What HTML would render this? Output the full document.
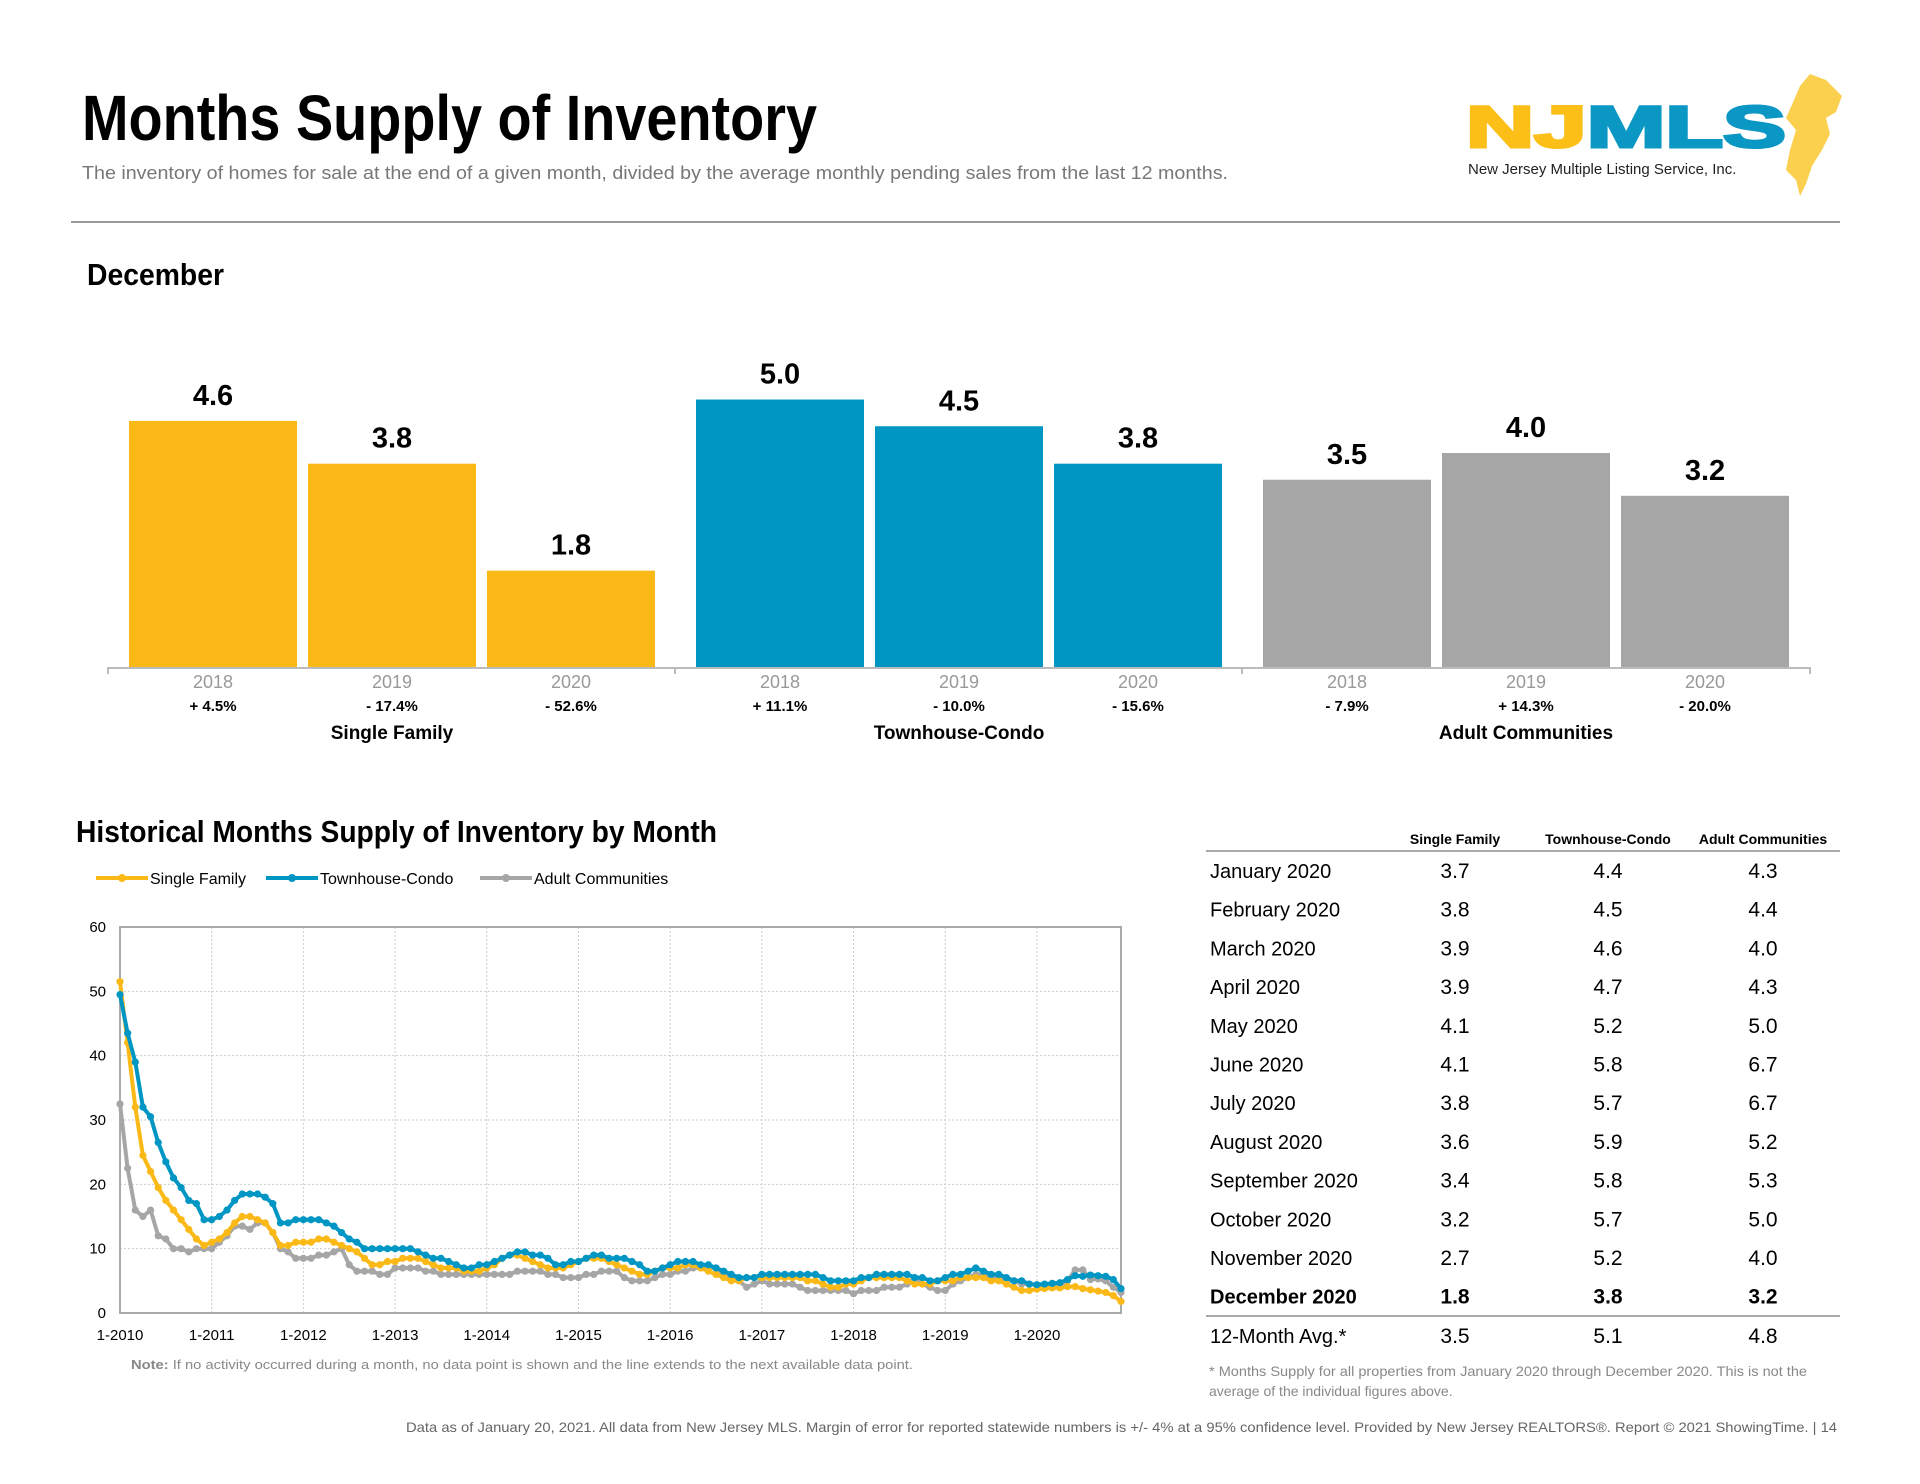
<!DOCTYPE html>
<html><head><meta charset="utf-8"><style>
html,body{margin:0;padding:0;background:#fff;}
svg{display:block;font-family:"Liberation Sans",sans-serif;}
</style></head><body>
<svg id="s" width="1920" height="1484" viewBox="0 0 1920 1484">
<text x="82" y="140" font-size="64" font-weight="bold" textLength="735" lengthAdjust="spacingAndGlyphs" fill="#000">Months Supply of Inventory</text>
<text x="82" y="179" font-size="18" fill="#777" textLength="1146" lengthAdjust="spacingAndGlyphs">The inventory of homes for sale at the end of a given month, divided by the average monthly pending sales from the last 12 months.</text>
<g>
<polygon points="1810,74 1826,80 1842,96 1836,112 1826,118 1830,134 1822,150 1812,166 1806,184 1800,196 1796,180 1786,170 1790,150 1796,130 1786,118 1794,100 1800,86" fill="#fcd04f"/>
<text x="1466" y="147" font-size="58" font-weight="900" textLength="320" lengthAdjust="spacingAndGlyphs" fill="#0b97c4" stroke="#0b97c4" stroke-width="3"><tspan fill="#fbbf17" stroke="#fbbf17">NJ</tspan>MLS</text>
<text x="1468" y="174" font-size="15" fill="#222">New Jersey Multiple Listing Service, Inc.</text>
</g>
<line x1="71" y1="222" x2="1840" y2="222" stroke="#999" stroke-width="2"/>
<text x="87" y="285" font-size="31" font-weight="bold" textLength="137" lengthAdjust="spacingAndGlyphs">December</text>
<g id="bars"></g>
<text x="76" y="842" font-size="31" font-weight="bold" textLength="641" lengthAdjust="spacingAndGlyphs">Historical Months Supply of Inventory by Month</text>
<g id="legend"></g>
<g id="lines"></g>
<text x="131" y="1369" font-size="13" fill="#888" textLength="782" lengthAdjust="spacingAndGlyphs"><tspan font-weight="bold">Note:</tspan> If no activity occurred during a month, no data point is shown and the line extends to the next available data point.</text>
<g id="table"></g>
<text x="1209" y="1376" font-size="14" fill="#888" textLength="598" lengthAdjust="spacingAndGlyphs">* Months Supply for all properties from January 2020 through December 2020. This is not the</text>
<text x="1209" y="1396" font-size="14" fill="#888">average of the individual figures above.</text>
<text x="406" y="1432" font-size="14" fill="#666" textLength="1431" lengthAdjust="spacingAndGlyphs">Data as of January 20, 2021. All data from New Jersey MLS. Margin of error for reported statewide numbers is +/- 4% at a 95% confidence level. Provided by New Jersey REALTORS®. Report © 2021 ShowingTime.  |  14</text>
</svg>
<script>
const NS="http://www.w3.org/2000/svg";
const barGroups=["Single Family","Townhouse-Condo","Adult Communities"];
const barYears=["2018","2019","2020"];
const barValues=[[4.6,3.8,1.8],[5.0,4.5,3.8],[3.5,4.0,3.2]];
const barChanges=[["+ 4.5%","- 17.4%","- 52.6%"],["+ 11.1%","- 10.0%","- 15.6%"],["- 7.9%","+ 14.3%","- 20.0%"]];
const barColors=["#fbb917","#0096c4","#a6a6a6"];

const lineMonths=132;
const xTickLabels=["1-2010","1-2011","1-2012","1-2013","1-2014","1-2015","1-2016","1-2017","1-2018","1-2019","1-2020"];
const yTicks=[0,10,20,30,40,50,60];
const seriesNames=["Single Family","Townhouse-Condo","Adult Communities"];
const sfValues=[51.5,42,32,24.5,22,19.5,17.5,16,14.5,13,11.5,10.5,
11,11.5,12.5,14,15,15,14.5,14,12.5,10.5,10.5,11,
11,11,11.5,11.5,11,10.5,10,9.5,8.5,7.5,7.5,8,
8,8.5,8.5,8.5,8,7.5,7,7,7,6.5,6.5,6.5,
7,7.5,8.5,9,9,8.5,8,7.5,7,7,7,7.5,
8,8.5,8.5,8.5,8,7.5,7,6.5,6,6,6.5,7,
7,7,7.5,7.5,7,6.5,6,5.5,5,5,5.5,5.5,
5.5,5.5,5.5,5.5,5.5,5.5,5,5,4.5,4,4,4.5,
4.5,5,5.5,5.5,5.5,5.5,5.5,5,4.5,4.5,4.5,5,
5,5,5.5,5.5,5.5,5.5,5,5,4.5,4,3.5,3.5,
3.7,3.8,3.9,3.9,4.1,4.1,3.8,3.6,3.4,3.2,2.7,1.8];
const tcValues=[49.5,43.5,39,32,30.5,26.5,23.5,21,19.5,17.5,17,14.5,
14.5,15,16,17.5,18.5,18.5,18.5,18,17,14,14,14.5,
14.5,14.5,14.5,14,13.5,12.5,11.5,11,10,10,10,10,
10,10,10,9.5,9,8.5,8.5,8,7.5,7,7,7.5,
7.5,8,8.5,9,9.5,9.5,9,9,8.5,7.5,7.5,8,
8,8.5,9,9,8.5,8.5,8.5,8,7.5,6.5,6.5,7,
7.5,8,8,8,7.5,7.5,7,6.5,6,5.5,5.5,5.5,
6,6,6,6,6,6,6,6,5.5,5,5,5,
5,5.5,5.5,6,6,6,6,6,5.5,5.5,5,5,
5.5,6,6,6.5,7,6.5,6,6,5.5,5,5,4.5,
4.4,4.5,4.6,4.7,5.2,5.8,5.7,5.9,5.8,5.7,5.2,3.8];
const acValues=[32.5,22.5,16,15,16,12,11.5,10,10,9.5,10,10,
10,11,12,13.5,13.5,13,14,14,12.5,10,9.5,8.5,
8.5,8.5,9,9,9.5,10,7.5,6.5,6.5,6.5,6,6,
7,7,7,7,6.5,6.5,6,6,6,6,6,6,
6,6,6,6,6.5,6.5,6.5,6.5,6,6,5.5,5.5,
5.5,6,6,6.5,6.5,6.5,5.5,5,5,5,5.5,6,
6,6.5,6.5,7,7,7,7,6,5.5,5,4,4.5,
5,4.5,4.5,4.5,4.5,4,3.5,3.5,3.5,3.5,3.5,3.5,
3,3.5,3.5,3.5,4,4,4,4.5,5.5,4.5,4,3.5,
3.5,4.5,5,5.5,6,6,5.5,5.5,5,5,4.5,4.5,
4.3,4.4,4.0,4.3,5.0,6.7,6.7,5.2,5.3,5.0,4.0,3.2];

const tableRows=["January 2020","February 2020","March 2020","April 2020","May 2020","June 2020","July 2020","August 2020","September 2020","October 2020","November 2020","December 2020"];
const tableSF=["3.7","3.8","3.9","3.9","4.1","4.1","3.8","3.6","3.4","3.2","2.7","1.8"];
const tableTC=["4.4","4.5","4.6","4.7","5.2","5.8","5.7","5.9","5.8","5.7","5.2","3.8"];
const tableAC=["4.3","4.4","4.0","4.3","5.0","6.7","6.7","5.2","5.3","5.0","4.0","3.2"];
const avgRow=["3.5","5.1","4.8"];

function mk(parent,tag,attrs,text){const e=document.createElementNS(NS,tag);for(const k in attrs)e.setAttribute(k,attrs[k]);if(text!==undefined)e.textContent=text;parent.appendChild(e);return e;}

// ---- bar chart
const bg=document.getElementById('bars');
const base=667, unit=53.5, bw=168, firstX=129, step=179, groupGap=567;
const by=v=>base-v*unit;
let ax=mk(bg,'line',{x1:108,y1:base+1,x2:1810,y2:base+1,stroke:'#bbb','stroke-width':2});


[108,675,1242,1810].forEach(x=>{const t=mk(bg,'line',{x1:x,y1:base,x2:x,y2:base+7,stroke:'#bbb','stroke-width':2});

});
barGroups.forEach((g,gi)=>{
  barValues[gi].forEach((v,i)=>{
    const x=firstX+gi*groupGap+i*step;
    const r=mk(bg,'rect',{x:x,y:by(v),width:bw,height:base-by(v),fill:barColors[gi]});
    
    
    const l=mk(bg,'text',{x:x+bw/2,y:by(v)-16,'font-size':29,'font-weight':'bold','text-anchor':'middle'},v.toFixed(1));
    
    
    const yl=mk(bg,'text',{x:x+bw/2,y:688,'font-size':18,fill:'#999','text-anchor':'middle'},barYears[i]);
    
    
    const cl=mk(bg,'text',{x:x+bw/2,y:711,'font-size':15,'font-weight':'bold','text-anchor':'middle'},barChanges[gi][i]);
    
    
  });
  const gl=mk(bg,'text',{x:firstX+gi*groupGap+step+bw/2,y:739,'font-size':19,'font-weight':'bold','text-anchor':'middle'},g);
  
  
});

// ---- line chart
const lg=document.getElementById('lines');
const L=120,R=1121,T=927,B=1313,yMax=60;
const xs=i=>L+(R-L)*i/(lineMonths-1);
const ys=v=>B-(B-T)*v/yMax;
yTicks.forEach(t=>{
  if(t>0&&t<yMax){const gl=mk(lg,'line',{x1:L,y1:ys(t),x2:R,y2:ys(t),stroke:'#ccc','stroke-dasharray':'2,2'});
  
  }
  const tl=mk(lg,'text',{x:L-14,y:ys(t)+5,'font-size':15,'text-anchor':'end'},t);
  
  
});
xTickLabels.forEach((lab,k)=>{
  const x=xs(k*12);
  if(k>0){const gl=mk(lg,'line',{x1:x,y1:T,x2:x,y2:B,stroke:'#ccc','stroke-dasharray':'2,2'});
  
  }
  const tl=mk(lg,'text',{x:x,y:1340,'font-size':15,'text-anchor':'middle'},lab);
  
  
});
const frame=mk(lg,'rect',{x:L,y:T,width:R-L,height:B-T,fill:'none',stroke:'#aaa','stroke-width':2});


const allSeries=[acValues,sfValues,tcValues];
const allColors=["#a6a6a6","#fbb917","#0096c4"];
const allNames=["adult-communities","single-family","townhouse-condo"];
allSeries.forEach((arr,si)=>{
  const pts=arr.map((v,i)=>xs(i).toFixed(1)+','+ys(v).toFixed(1)).join(' ');
  const pl=mk(lg,'polyline',{points:pts,fill:'none',stroke:allColors[si],'stroke-width':4,'stroke-linejoin':'round'});
  
  
  arr.forEach((v,i)=>{const c=mk(lg,'circle',{cx:xs(i),cy:ys(v),r:3.6,fill:allColors[si]});
  
  });
});
// legend
const leg=document.getElementById('legend');
const legX=[96,266,480], legC=["#fbb917","#0096c4","#a6a6a6"];
seriesNames.forEach((n,i)=>{
  const ln=mk(leg,'line',{x1:legX[i],y1:878,x2:legX[i]+52,y2:878,stroke:legC[i],'stroke-width':4});
  
  
  const c=mk(leg,'circle',{cx:legX[i]+26,cy:878,r:4,fill:legC[i]});
  
  
  const t=mk(leg,'text',{x:legX[i]+54,y:884,'font-size':16},n);
  
  
});

// ---- table
const tg=document.getElementById('table');
const cols=[1455,1608,1763];
["Single Family","Townhouse-Condo","Adult Communities"].forEach((h,i)=>{
  const t=mk(tg,'text',{x:cols[i],y:844,'font-size':14,'font-weight':'bold','text-anchor':'middle'},h);
  
  
});
let hl=mk(tg,'line',{x1:1206,y1:851,x2:1840,y2:851,stroke:'#aaa','stroke-width':2});


tableRows.forEach((r,i)=>{
  const y=878+i*38.7, bold=(i===tableRows.length-1)?'bold':'normal';
  const t=mk(tg,'text',{x:1210,y:y,'font-size':20,'font-weight':bold},r);
  
  
  [tableSF[i],tableTC[i],tableAC[i]].forEach((v,j)=>{
    const c=mk(tg,'text',{x:cols[j],y:y,'font-size':21,'font-weight':bold,'text-anchor':'middle'},v);
    
    
  });
});
let bl=mk(tg,'line',{x1:1206,y1:1316,x2:1840,y2:1316,stroke:'#aaa','stroke-width':2});


let al=mk(tg,'text',{x:1210,y:1343,'font-size':20},'12-Month Avg.*');


avgRow.forEach((v,j)=>{const c=mk(tg,'text',{x:cols[j],y:1343,'font-size':21,'text-anchor':'middle'},v);

});
</script>
</body></html>
